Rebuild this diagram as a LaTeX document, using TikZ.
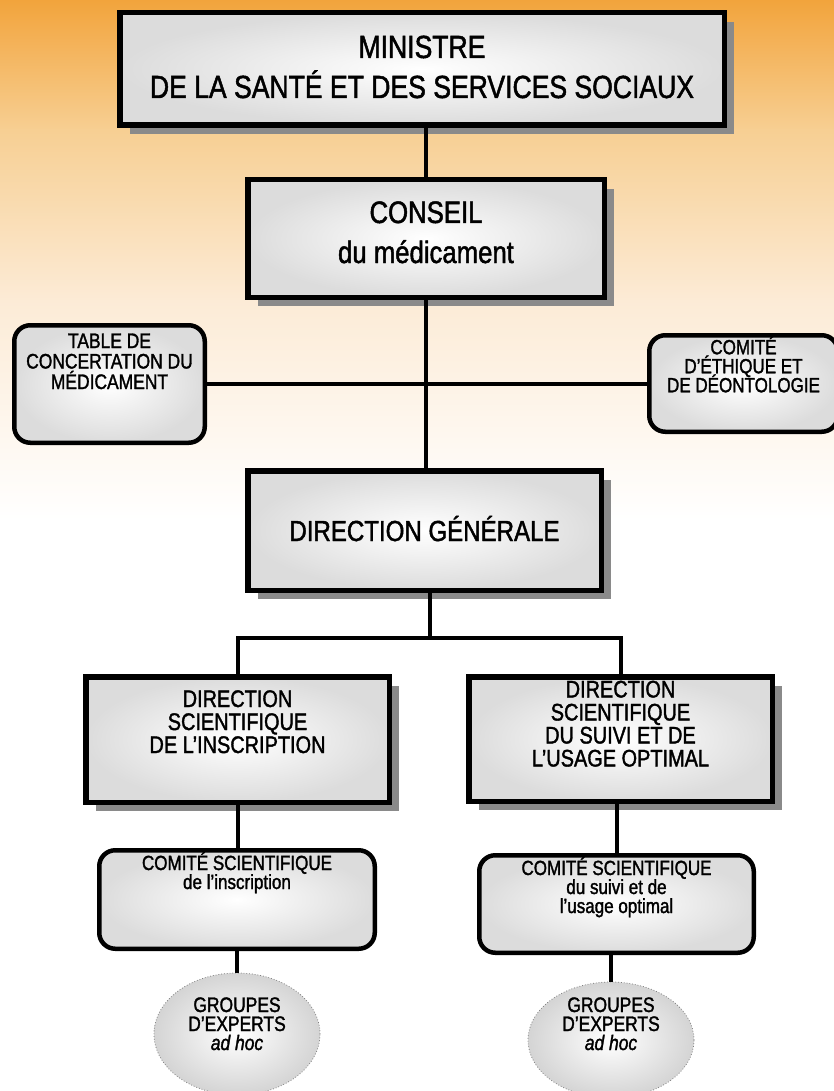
\documentclass[tikz,border=0pt]{standalone}
\usepackage{fontspec}
\setmainfont{Liberation Sans}[FakeStretch=0.83,FakeBold=1.5]
\usetikzlibrary{shadows,shapes.geometric}
\definecolor{orgA}{HTML}{F2A43C}
\definecolor{orgB}{HTML}{F7CF93}
\definecolor{orgC}{HTML}{FCEBD6}
\definecolor{boxout}{HTML}{DCDCDC}
\definecolor{ellout}{HTML}{D4D4D4}
\definecolor{shad}{HTML}{8A8A8A}
\newcommand\boxtxt[6]{\parbox[c][#2pt][t]{#1pt}{\fontsize{#3pt}{#4pt}\selectfont\lineskiplimit=-100pt\relax\centering\vspace*{#5pt}\rule{0pt}{1em}#6\par}}
\tikzset{
  bigbox/.style={draw, line width=5.5pt, rectangle, inner sep=0pt, inner color=white, outer color=boxout,
    drop shadow={shadow xshift=10pt, shadow yshift=-9pt, opacity=1, fill=shad}},
  roundbox/.style={draw, line width=4.5pt, rectangle, rounded corners=16pt, inner sep=0pt, inner color=white, outer color=boxout},
  grpell/.style={ellipse, draw=gray, dotted, line width=0.8pt, inner sep=0pt, inner color=white, outer color=ellout},
  conn/.style={line width=4pt}
}
\begin{document}
\begin{tikzpicture}[x=1pt,y=-1pt]
\useasboundingbox (0,0) rectangle (834,1091);
% background
\fill[white] (0,0) rectangle (834,1091);
\shade[top color=orgA, bottom color=orgB] (0,0) rectangle (834,131);
\shade[top color=orgB, bottom color=orgC] (0,130) rectangle (834,301);
\shade[top color=orgC, bottom color=white] (0,300) rectangle (834,520);
% nodes
\node[bigbox, minimum width=604.5pt, minimum height=112.5pt] (mini) at (422,69)
  {\boxtxt{604.5}{112.5}{32}{40}{13.25}{MINISTRE\\DE LA SANTÉ ET DES SERVICES SOCIAUX}};
\node[bigbox, minimum width=356.5pt, minimum height=117.5pt] (cons) at (426,238.5)
  {\boxtxt{356.5}{117.5}{31}{40}{12.25}{CONSEIL\\du médicament}};
\node[roundbox, minimum width=190.5pt, minimum height=117.5pt] (table) at (109.5,384)
  {\boxtxt{190.5}{117.5}{21}{20.5}{1.75}{TABLE DE\\CONCERTATION DU\\MÉDICAMENT}};
\node[roundbox, minimum width=188.5pt, minimum height=96.5pt] (ethic) at (743.5,383.5)
  {\boxtxt{188.5}{96.5}{20.5}{19}{-1.5}{COMITÉ\\D’ÉTHIQUE ET\\DE DÉONTOLOGIE}};
\node[bigbox, minimum width=353.5pt, minimum height=119.5pt] (dg) at (424.5,530.5)
  {\boxtxt{353.5}{119.5}{29}{30}{41.25}{DIRECTION GÉNÉRALE}};
\node[bigbox, minimum width=303.5pt, minimum height=125.5pt] (dsl) at (237.5,739.5)
  {\boxtxt{303.5}{125.5}{24}{23}{6.25}{DIRECTION\\SCIENTIFIQUE\\DE L’INSCRIPTION}};
\node[bigbox, minimum width=303.5pt, minimum height=124.5pt] (dsr) at (620.5,739)
  {\boxtxt{303.5}{124.5}{24}{23}{-3.25}{DIRECTION\\SCIENTIFIQUE\\DU SUIVI ET DE\\L’USAGE OPTIMAL}};
\node[roundbox, minimum width=275.5pt, minimum height=98.5pt] (csl) at (237,899.5)
  {\boxtxt{275.5}{98.5}{20.5}{19}{-0.75}{COMITÉ SCIENTIFIQUE\\de l’inscription}};
\node[roundbox, minimum width=274.5pt, minimum height=97.5pt] (csr) at (616.5,904)
  {\boxtxt{274.5}{97.5}{20.5}{19}{-0.75}{COMITÉ SCIENTIFIQUE\\du suivi et de\\l’usage optimal}};
\node[grpell, minimum width=166pt, minimum height=122pt] (ell1) at (237,1034)
  {\boxtxt{100}{80}{21}{19}{-3}{GROUPES\\D’EXPERTS\\\textit{ad hoc}}};
\node[grpell, minimum width=166pt, minimum height=116pt] (ell2) at (611,1040)
  {\boxtxt{100}{80}{21}{19}{-9}{GROUPES\\D’EXPERTS\\\textit{ad hoc}}};
% junction points
\coordinate (jc) at (430,638);
\coordinate (jl) at (237.5,638);
\coordinate (jr) at (620.5,638);
% connectors
\draw[conn] (cons.north) -- (cons.north |- mini.south);
\draw[conn] (cons.south) -- (cons.south |- dg.north);
\draw[conn] (table.east) -- (table.east -| ethic.west);
\draw[conn] (jc) -- (jc |- dg.south);
\draw[conn] (dsl.north) |- (jr) -- (dsr.north);
\draw[conn] (dsl.south) -- (dsl.south |- csl.north);
\draw[conn] (csr.north) -- (csr.north |- dsr.south);
\draw[conn] (csl.south) -- (csl.south |- ell1.north);
\draw[conn] (ell2.north) -- (ell2.north |- csr.south);
\end{tikzpicture}
\end{document}
